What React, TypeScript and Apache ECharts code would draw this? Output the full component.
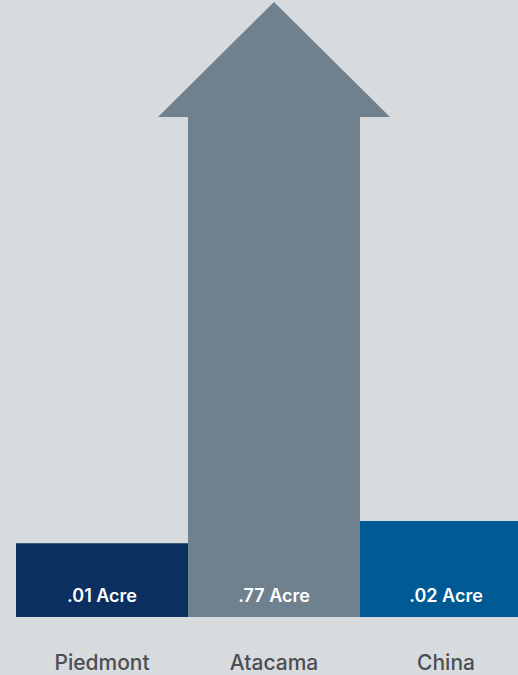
import React, { useEffect, useRef } from "react";
import * as echarts from "echarts";

// Categories and the real values shown in labels
const categories: string[] = ["Piedmont", "Atacama", "China"];
const acreValues: string[] = [".01", ".77", ".02"];
// Visual (non-proportional, illustrative) heights of the bars, in chart units (axis max 100)
const barHeights: number[] = [12.0, 81.3, 15.6];
// Which bar is drawn as an arrow (off the scale)
const isArrow: boolean[] = [false, true, false];
const barColors: string[] = ["#0b2f60", "#6f808e", "#005a94"];

export default function App() {
  const ref = useRef<HTMLDivElement>(null);
  useEffect(() => {
    if (!ref.current) return;
    const chart = echarts.init(ref.current, undefined, { renderer: "svg" });
    const data = categories.map((c, i) => [i, barHeights[i]]);
    chart.setOption({
      animation: false,
      backgroundColor: "#d8dbde",
      grid: { left: 16, right: 0, top: 2, bottom: 58 },
      xAxis: {
        type: "category",
        data: categories,
        axisLine: { show: false },
        axisTick: { show: false },
        axisLabel: {
          color: "#4b4e53",
          fontSize: 21,
          fontFamily: "Inter",
          fontWeight: 500,
          margin: 35,
        },
      },
      yAxis: { type: "value", min: 0, max: 100, show: false, splitLine: { show: false } },
      series: [
        {
          type: "custom",
          data,
          renderItem: (params: any, api: any) => {
            const idx = api.value(0);
            const h = api.value(1);
            const bw = api.size([1, 0])[0];
            const base = api.coord([idx, 0]);
            const top = api.coord([idx, h]);
            const x0 = base[0] - bw / 2;
            const x1 = base[0] + bw / 2;
            const color = barColors[idx];
            const children: any[] = [];
            if (isArrow[idx]) {
              const tip = api.coord([idx, 100]);
              const over = 30;
              children.push({
                type: "polygon",
                shape: {
                  points: [
                    [x0, base[1]],
                    [x0, top[1]],
                    [x0 - over, top[1]],
                    [tip[0], tip[1]],
                    [x1 + over, top[1]],
                    [x1, top[1]],
                    [x1, base[1]],
                  ],
                },
                style: { fill: color },
              });
            } else {
              children.push({
                type: "rect",
                shape: { x: x0, y: top[1], width: bw, height: base[1] - top[1] },
                style: { fill: color },
              });
            }
            children.push({
              type: "text",
              x: base[0],
              y: base[1] - 22,
              style: {
                text: acreValues[idx] + " Acre",
                fill: "#ffffff",
                fontSize: 18,
                fontWeight: 600,
                fontFamily: "Inter",
                align: "center",
                verticalAlign: "middle",
              },
            });
            return { type: "group", children };
          },
        },
      ],
    });
    return () => chart.dispose();
  }, []);
  return (
    <div style={{ position: "absolute", left: 0, top: 0, width: 518, height: 675, overflow: "hidden" }}>
      <div ref={ref} style={{ width: 532, height: 675 }} />
    </div>
  );
}
